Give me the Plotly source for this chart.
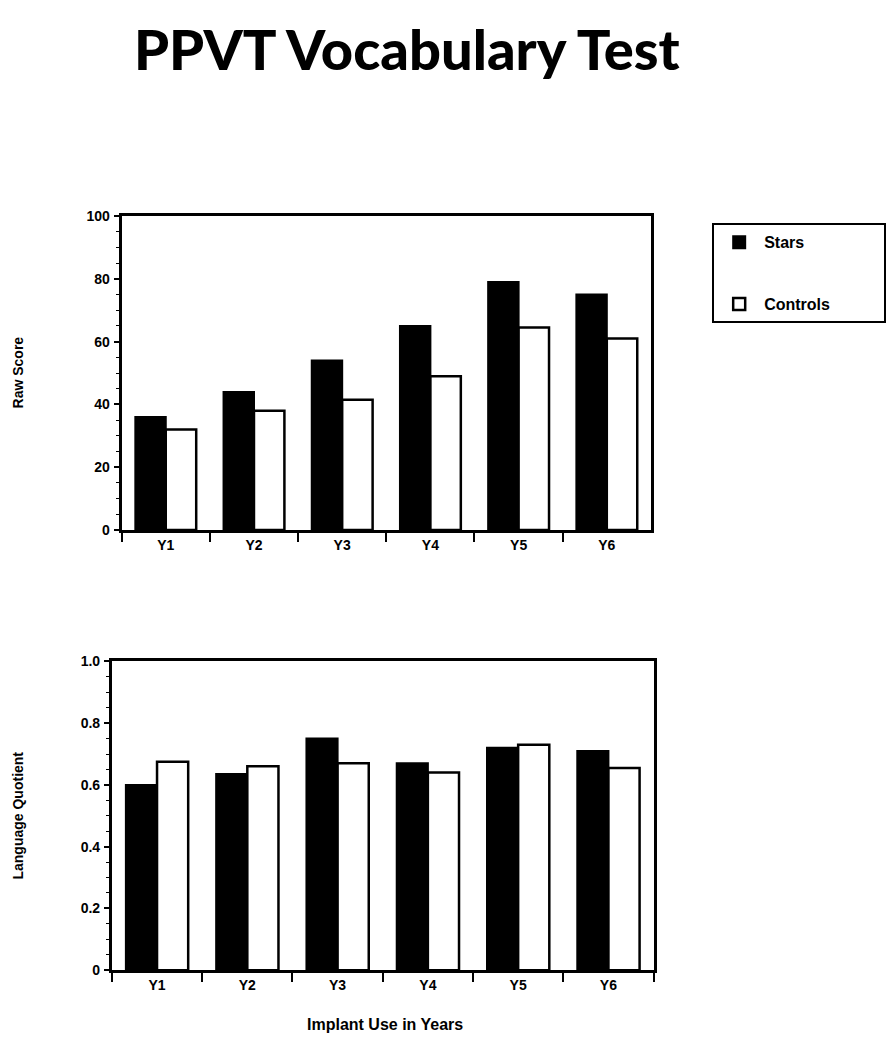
import plotly.graph_objects as go

years = ["Y1", "Y2", "Y3", "Y4", "Y5", "Y6"]
raw_stars = [36, 44, 54, 65, 79, 75]
raw_controls = [32, 38, 41.5, 49, 64.5, 61]
lq_stars = [0.60, 0.635, 0.75, 0.67, 0.72, 0.71]
lq_controls = [0.675, 0.66, 0.67, 0.64, 0.73, 0.655]

raw_ticks = [0, 20, 40, 60, 80, 100]
raw_ticktext = ["0", "20", "40", "60", "80", "100"]
lq_ticks = [0, 0.2, 0.4, 0.6, 0.8, 1.0]
lq_ticktext = ["0", "0.2", "0.4", "0.6", "0.8", "1.0"]

FONT = "Liberation Sans"
W, H = 888, 1042  # page body has an 8px margin

fig = go.Figure()

star_style = dict(marker=dict(color="black", line=dict(color="black", width=2)))
ctrl_style = dict(marker=dict(color="white", line=dict(color="black", width=2.5)))
PAD = "\u00a0" * 11

fig.add_trace(go.Bar(x=years, y=raw_stars, name="Stars" + PAD, legendgroup="s", xaxis="x", yaxis="y", **star_style))
fig.add_trace(go.Bar(x=years, y=raw_controls, name="Controls" + PAD, legendgroup="c", xaxis="x", yaxis="y", **ctrl_style))
fig.add_trace(go.Bar(x=years, y=lq_stars, name="Stars", legendgroup="s", showlegend=False, xaxis="x2", yaxis="y2", **star_style))
fig.add_trace(go.Bar(x=years, y=lq_controls, name="Controls", legendgroup="c", showlegend=False, xaxis="x2", yaxis="y2", **ctrl_style))

axis_common = dict(showline=True, linecolor="black", linewidth=3, mirror=True,
                   showgrid=False, zeroline=False,
                   tickfont=dict(family=FONT, size=14, color="black", weight="bold"))

fig.update_layout(
    width=W, height=H,
    margin=dict(l=0, r=0, t=0, b=0),
    paper_bgcolor="white", plot_bgcolor="white",
    barmode="group", bargap=0.31, bargroupgap=0,
    xaxis=dict(domain=[0.128, 0.724], anchor="y", ticks="outside", tickson="boundaries",
               ticklen=9, tickwidth=2, tickcolor="black", **axis_common),
    yaxis=dict(domain=[0.499, 0.805], anchor="x", range=[0, 100], tickvals=raw_ticks,
               ticktext=raw_ticktext, ticks="outside", ticklen=5, tickwidth=2, tickcolor="black",
               ticklabelstandoff=1,
               minor=dict(ticks="outside", ticklen=3, tickwidth=1, tickcolor="black", dtick=5),
               **axis_common),
    xaxis2=dict(domain=[0.117, 0.727], anchor="y2", ticks="outside", tickson="boundaries",
                ticklen=9, tickwidth=2, tickcolor="black", **axis_common),
    yaxis2=dict(domain=[0.070, 0.371], anchor="x2", range=[0, 1.0], tickvals=lq_ticks,
                ticktext=lq_ticktext, ticks="outside", ticklen=5, tickwidth=2, tickcolor="black",
                ticklabelstandoff=1,
                minor=dict(ticks="outside", ticklen=3, tickwidth=1, tickcolor="black", dtick=0.05),
                **axis_common),
    legend=dict(x=0.793, y=0.798, xanchor="left", yanchor="top",
                bordercolor="black", borderwidth=2, bgcolor="white",
                font=dict(family=FONT, size=16, color="black", weight="bold"),
                itemwidth=40, tracegroupgap=38),
    showlegend=True,
    annotations=[
        dict(text="PPVT Vocabulary Test", x=0.449, y=1 - 33 / H, xref="paper", yref="paper",
             xanchor="center", yanchor="middle",
             showarrow=False, font=dict(family="Lato", size=56, color="black", weight=900)),
        dict(text="Raw Score", x=10 / W, y=1 - 362 / H, xref="paper", yref="paper", textangle=-90,
             xanchor="center", yanchor="middle",
             showarrow=False, font=dict(family=FONT, size=14, color="black", weight="bold")),
        dict(text="Language Quotient", x=10 / W, y=1 - 812 / H, xref="paper", yref="paper", textangle=-90,
             xanchor="center", yanchor="middle",
             showarrow=False, font=dict(family=FONT, size=14, color="black", weight="bold")),
        dict(text="Implant Use in Years", x=377 / W, y=1 - 1024 / H, xref="paper", yref="paper",
             xanchor="center", yanchor="middle",
             showarrow=False, font=dict(family=FONT, size=16, color="black", weight="bold")),
    ],
)

fig.write_html("out.html")
